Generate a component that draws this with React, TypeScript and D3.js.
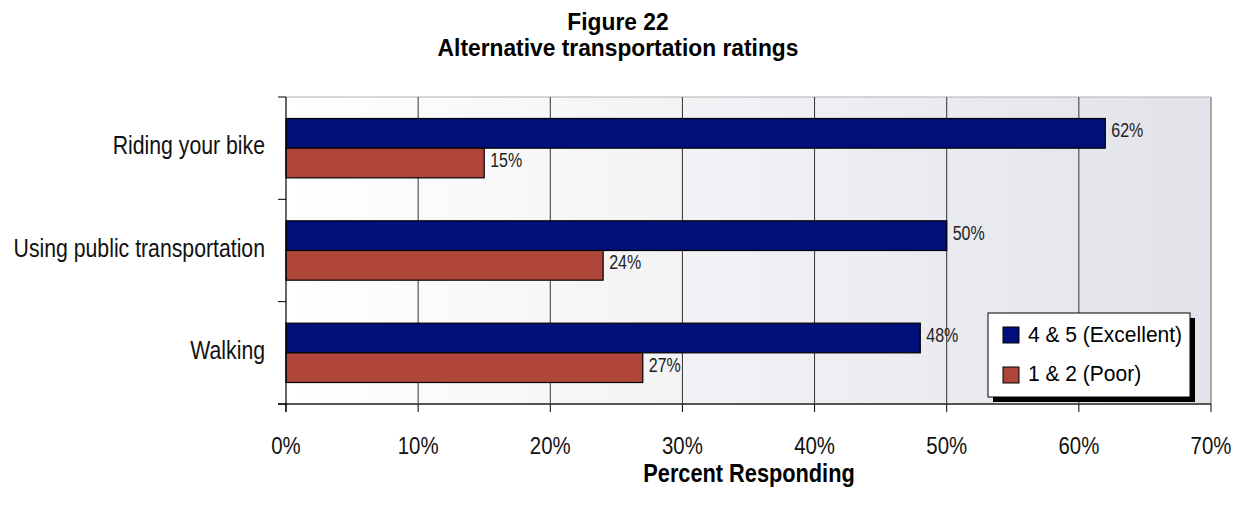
import React from "react";
import * as d3 from "d3";

const categories: string[] = ["Riding your bike", "Using public transportation", "Walking"];
const excellent: number[] = [62, 50, 48];
const poor: number[] = [15, 24, 27];
const seriesNames: string[] = ["4 & 5 (Excellent)", "1 & 2 (Poor)"];
const xTicks: number[] = [0, 10, 20, 30, 40, 50, 60, 70];
const titleLines: string[] = ["Figure 22", "Alternative transportation ratings"];
const xTitle = "Percent Responding";

const W = 1236;
const H = 515;
const M = { left: 286, right: 1211, top: 97, bottom: 404 };
const FONT = "'Liberation Sans', Arial, sans-serif";
const BLUE = "#000f7a";
const RED = "#b0463a";

type STProps = {
  x: number;
  y: number;
  sx: number;
  size: number;
  anchor?: "start" | "middle" | "end";
  bold?: boolean;
  fill?: string;
  children: React.ReactNode;
};

function SText({ x, y, sx, size, anchor = "start", bold = false, fill = "#111", children }: STProps) {
  return (
    <g transform={`translate(${x},${y}) scale(${sx},1)`}>
      <text x={0} y={0} textAnchor={anchor} fontSize={size} fontWeight={bold ? "bold" : "normal"} fill={fill}>
        {children}
      </text>
    </g>
  );
}

export default function App() {
  const x = d3.scaleLinear().domain([0, 70]).range([M.left, M.right]);
  const y = d3.scaleBand<string>().domain(categories).range([M.top, M.bottom]);
  const bw = y.bandwidth();
  const barH = bw * 0.29;
  const series = [
    { name: seriesNames[0], values: excellent, color: BLUE, off: -barH },
    { name: seriesNames[1], values: poor, color: RED, off: 0 },
  ];
  return (
    <svg width={W} height={H} style={{ position: "absolute", left: 0, top: 0 }} fontFamily={FONT}>
      <defs>
        <linearGradient id="bg" x1="0" x2="1" y1="0" y2="0">
          <stop offset="0" stopColor="#ffffff" />
          <stop offset="1" stopColor="#e2e3ea" />
        </linearGradient>
      </defs>
      {titleLines.map((t, i) => (
        <SText key={t} x={618} y={30 + i * 26} sx={0.95} size={24} anchor="middle" bold fill="#000">
          {t}
        </SText>
      ))}
      <rect x={M.left} y={M.top} width={M.right - M.left} height={M.bottom - M.top} fill="url(#bg)" />
      <line x1={M.left} x2={M.right} y1={M.top} y2={M.top} stroke="#b0b0b0" strokeWidth={1} />
      <line x1={M.right} x2={M.right} y1={M.top} y2={M.bottom} stroke="#909090" strokeWidth={1.5} />
      {xTicks.slice(1, -1).map((t) => (
        <line key={t} x1={x(t)} x2={x(t)} y1={M.top} y2={M.bottom} stroke="#333" strokeWidth={1} />
      ))}
      {series.map((s) =>
        categories.map((c, i) => {
          const yc = (y(c) as number) + bw / 2 + s.off;
          return (
            <g key={s.name + c}>
              <rect x={x(0)} y={yc} width={x(s.values[i]) - x(0)} height={barH} fill={s.color} stroke="#000" strokeWidth={1.2} />
              <SText x={x(s.values[i]) + 6} y={yc + barH / 2 + 4} sx={0.8} size={20} fill="#222">
                {s.values[i]}%
              </SText>
            </g>
          );
        })
      )}
      {/* axes */}
      <line x1={278} x2={M.right} y1={M.bottom} y2={M.bottom} stroke="#555" strokeWidth={2} />
      <line x1={M.left} x2={M.left} y1={M.top} y2={M.bottom + 8} stroke="#000" strokeWidth={1.2} />
      {[...categories.map((c) => y(c) as number), M.bottom].map((v, i) => (
        <line key={i} x1={278} x2={M.left} y1={v} y2={v} stroke="#000" strokeWidth={1} />
      ))}
      {xTicks.map((t) => (
        <g key={t}>
          <line x1={x(t)} x2={x(t)} y1={M.bottom} y2={M.bottom + 8} stroke="#000" strokeWidth={1} />
          <SText x={x(t)} y={454} sx={0.85} size={24} anchor="middle" fill="#111">
            {t}%
          </SText>
        </g>
      ))}
      {categories.map((c) => (
        <SText key={c} x={265} y={(y(c) as number) + bw / 2 + 6} sx={0.85} size={25} anchor="end" fill="#111">
          {c}
        </SText>
      ))}
      <SText x={749} y={482} sx={0.87} size={25} anchor="middle" bold fill="#000">
        {xTitle}
      </SText>
      {/* legend */}
      <rect x={993} y={318} width={202} height={84} fill="#000" />
      <rect x={988} y={313} width={202} height={84} fill="#fff" stroke="#000" strokeWidth={1} />
      {series.map((s, i) => (
        <g key={s.name}>
          <rect x={1003} y={327 + i * 40} width={16} height={16} fill={s.color} stroke="#000" strokeWidth={1} />
          <SText x={1028} y={342 + i * 39} sx={0.955} size={22} fill="#000">
            {s.name}
          </SText>
        </g>
      ))}
    </svg>
  );
}
